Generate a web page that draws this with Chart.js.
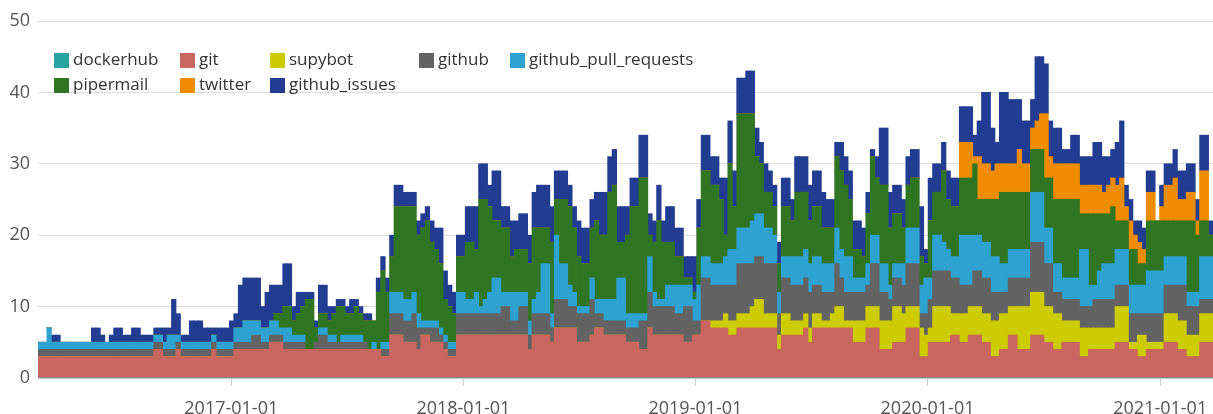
<!DOCTYPE html>
<html>
<head>
<meta charset="utf-8">
<script src="https://cdn.jsdelivr.net/npm/chart.js@4.4.1/dist/chart.umd.min.js"></script>
<style>
  html, body { margin: 0; padding: 0; background: #ffffff; }
  #wrap { width: 1213px; height: 414px; }
</style>
</head>
<body>
<div id="wrap"><canvas id="c" width="1213" height="414"></canvas></div>
<script>
// ---- categories: weekly bins starting at this date ----
const FIRST_WEEK = '2016-03-03';
const TICK_LABELS = ['2017-01-01', '2018-01-01', '2019-01-01', '2020-01-01', '2021-01-01'];
const SERIES_NAMES = ['dockerhub', 'git', 'supybot', 'github', 'github_pull_requests', 'pipermail', 'twitter', 'github_issues'];

// ---- series values (messages per week) ----
const git = [
  3,3,3,3,3,3,3,3,3,3,3,3,3,3,3,3,3,3,3,3,3,3,
  3,3,3,3,4,4,3,3,3,4,3,3,3,3,3,3,3,4,3,3,3,3,
  4,4,4,4,4,4,4,4,5,5,5,4,4,4,4,4,4,4,4,4,4,4,
  4,4,4,4,4,4,4,4,4,4,4,3,3,6,6,6,5,5,5,4,6,6,
  5,5,5,4,3,3,6,6,6,6,6,6,6,6,6,6,6,6,6,6,6,6,
  4,6,6,6,6,5,7,7,7,7,7,5,5,5,6,7,7,6,6,6,6,6,
  5,5,5,4,4,7,6,6,6,6,6,6,6,5,5,6,6,8,8,7,7,7,
  7,6,6,7,7,7,7,7,7,7,7,7,4,6,6,6,6,6,7,5,7,7,
  7,7,7,7,7,7,7,5,5,5,7,7,7,4,4,4,5,5,5,7,7,7,
  3,3,5,5,5,5,5,6,6,5,5,6,6,6,5,5,3,3,4,4,6,6,
  4,4,4,6,6,6,5,5,4,4,5,5,5,5,3,3,4,4,4,4,4,4,
  5,5,5,4,4,3,3,4,4,4,4,5,5,5,4,4,3,3,3,5,5,5
];
const supybot = [
  0,0,0,0,0,0,0,0,0,0,0,0,0,0,0,0,0,0,0,0,0,0,
  0,0,0,0,0,0,0,0,0,0,0,0,0,0,0,0,0,0,0,0,0,0,
  0,0,0,0,0,0,0,0,0,0,0,0,0,0,0,0,0,0,0,0,0,0,
  0,0,0,0,0,0,0,0,0,0,0,0,0,0,0,0,0,0,0,0,0,0,
  0,0,0,0,0,0,0,0,0,0,0,0,0,0,0,0,0,0,0,0,0,0,
  0,0,0,0,0,0,0,0,0,0,0,0,0,0,0,0,0,0,0,0,0,0,
  0,0,0,0,0,0,0,0,0,0,0,0,0,0,0,0,0,0,0,1,1,1,
  2,2,2,2,2,2,3,4,4,2,2,2,2,3,3,2,2,2,2,2,2,2,
  1,1,2,3,3,1,1,3,3,3,3,3,3,4,4,4,5,5,4,3,3,3,
  4,3,2,5,5,5,5,3,3,4,4,4,4,4,4,4,5,5,5,5,4,4,
  6,6,6,6,6,6,5,5,5,5,3,3,3,3,4,4,3,3,3,3,3,3,
  5,5,5,1,1,3,3,1,1,1,1,4,4,4,4,4,3,3,3,4,4,4
];
const github = [
  1,1,1,1,1,1,1,1,1,1,1,1,1,1,1,1,1,1,1,1,1,1,
  1,1,1,1,1,1,1,1,1,1,1,1,1,1,1,1,1,1,1,1,1,1,
  1,1,1,1,2,2,1,1,1,1,1,1,1,1,1,1,0,0,1,2,2,1,
  1,1,1,1,1,1,1,1,0,0,0,1,1,3,3,3,3,3,4,3,1,1,
  2,2,1,1,1,1,3,3,3,3,3,3,3,3,3,3,4,4,2,2,4,4,
  2,3,3,3,3,2,4,4,4,3,3,4,4,4,5,2,2,2,2,2,2,2,
  2,2,2,4,4,5,4,4,4,4,4,3,3,5,5,2,2,6,6,5,5,5,
  4,5,5,7,7,7,6,6,6,7,7,7,3,5,5,5,5,5,5,5,4,4,
  4,4,3,6,4,4,4,4,4,4,3,6,6,4,4,3,4,4,4,6,6,6,
  2,3,4,5,5,5,5,5,5,4,4,3,5,5,5,5,4,4,3,3,4,4,
  4,4,4,7,7,7,6,6,3,3,3,3,3,3,3,3,3,4,4,4,4,4,
  3,3,3,4,4,3,3,4,4,4,4,4,4,4,5,5,4,4,4,2,2,2
];
const github_pull_requests = [
  1,1,3,1,1,1,1,1,1,1,1,1,1,1,1,1,1,1,1,1,1,1,
  1,1,1,1,1,1,1,2,2,1,1,1,1,1,1,1,1,1,1,1,1,1,
  2,2,3,3,2,2,2,2,2,2,1,2,2,1,1,1,0,0,0,1,1,1,
  1,0,1,1,1,1,1,0,0,1,0,1,1,3,3,3,3,3,3,2,1,1,
  1,1,1,1,1,1,3,3,2,2,3,1,2,3,5,5,2,2,4,4,2,2,
  2,2,3,7,7,2,9,5,5,3,2,1,1,1,3,2,2,3,3,3,6,6,
  2,2,2,1,1,5,2,1,1,3,3,4,4,3,3,3,5,3,3,3,3,3,
  4,5,5,5,5,5,6,6,6,5,5,4,3,3,3,4,4,4,4,4,4,4,
  4,4,4,5,4,5,5,2,2,2,3,4,4,4,4,2,2,2,3,5,5,5,
  4,5,3,5,5,4,3,3,3,7,7,7,5,5,5,5,5,5,4,4,4,4,
  4,4,4,7,7,7,5,5,4,4,3,3,3,3,8,8,3,2,4,5,5,5,
  5,5,5,4,4,4,4,6,6,6,6,4,4,4,4,4,2,2,2,6,6,6
];
const pipermail = [
  0,0,0,0,0,0,0,0,0,0,0,0,0,0,0,0,0,0,0,0,0,0,
  0,0,0,0,0,0,0,0,0,0,0,0,0,0,0,0,0,0,0,0,0,0,
  0,0,0,0,0,0,0,0,0,1,2,3,3,2,3,4,7,7,2,2,2,2,
  3,5,4,3,3,4,3,3,4,3,8,10,7,5,12,12,13,13,12,11,13,14,
  11,10,9,5,5,4,5,5,8,8,6,15,14,12,8,8,9,9,5,6,6,6,
  8,10,9,5,5,10,5,9,9,11,9,7,6,6,7,11,9,9,15,16,5,5,
  11,15,15,19,19,3,7,11,8,6,6,4,4,1,1,1,8,12,12,11,11,9,
  3,12,6,16,16,16,15,8,7,5,5,4,4,7,7,5,9,9,8,6,7,7,
  5,5,5,10,11,10,8,4,4,3,7,11,8,11,11,8,7,7,5,6,7,7,
  4,2,8,6,6,10,7,7,7,8,8,8,10,5,6,6,8,8,10,10,8,8,
  8,8,8,6,6,6,7,7,9,9,11,11,11,11,5,5,10,10,8,7,7,8,
  4,4,4,5,5,3,3,7,7,7,7,5,5,5,5,5,10,10,8,5,5,3
];
const twitter = [
  0,0,0,0,0,0,0,0,0,0,0,0,0,0,0,0,0,0,0,0,0,0,
  0,0,0,0,0,0,0,0,0,0,0,0,0,0,0,0,0,0,0,0,0,0,
  0,0,0,0,0,0,0,0,0,0,0,0,0,0,0,0,0,0,0,0,0,0,
  0,0,0,0,0,0,0,0,0,0,0,0,0,0,0,0,0,0,0,0,0,0,
  0,0,0,0,0,0,0,0,0,0,0,0,0,0,0,0,0,0,0,0,0,0,
  0,0,0,0,0,0,0,0,0,0,0,0,0,0,0,0,0,0,0,0,0,0,
  0,0,0,0,0,0,0,0,0,0,0,0,0,0,0,0,0,0,0,0,0,0,
  0,0,0,0,0,0,0,0,0,0,0,0,0,0,0,0,0,0,0,0,0,0,
  0,0,0,0,0,0,0,0,0,0,0,0,0,0,0,0,0,0,0,0,0,0,
  0,0,0,0,0,0,0,0,0,5,5,5,1,6,5,5,4,5,4,4,4,4,
  6,4,4,3,4,5,9,3,5,5,5,5,5,5,4,4,4,4,4,3,4,4,
  5,6,2,4,2,3,2,4,4,0,2,5,5,6,3,3,4,4,2,7,7,0
];
const github_issues = [
  0,0,0,1,1,0,0,0,0,0,0,0,2,2,1,0,1,2,2,1,1,2,
  2,1,1,1,1,1,2,1,5,3,1,1,3,3,3,2,2,1,2,2,2,3,
  2,6,6,6,6,6,3,5,5,4,4,6,6,2,3,2,1,1,1,4,4,2,
  1,1,1,1,2,1,1,1,1,0,2,2,2,3,3,3,2,2,2,2,2,2,
  3,3,5,4,3,3,3,3,5,5,6,5,5,3,7,7,3,3,5,4,5,5,
  4,5,6,6,6,5,4,4,4,3,3,5,5,5,4,4,6,6,5,5,5,5,
  4,4,4,6,6,3,3,5,3,5,5,4,4,3,3,5,4,5,5,4,4,3,
  8,6,5,5,5,6,6,4,3,4,3,3,3,4,4,3,5,5,5,5,5,5,
  5,4,4,2,4,4,4,4,4,4,3,1,3,8,8,5,4,4,4,4,4,4,
  7,2,6,4,4,4,4,4,4,5,5,5,3,5,10,10,6,3,10,10,9,9,
  7,6,6,4,9,8,7,5,5,5,2,2,4,4,4,4,4,6,6,5,4,4,
  6,8,3,3,2,3,3,3,3,0,3,3,3,4,4,4,4,4,3,5,5,2
];
const dockerhub = [
  0,0,0,0,0,0,0,0,0,0,0,0,0,0,0,0,0,0,0,0,0,0,
  0,0,0,0,0,0,0,0,0,0,0,0,0,0,0,0,0,0,0,0,0,0,
  0,0,0,0,0,0,0,0,0,0,0,0,0,0,0,0,0,0,0,0,0,0,
  0,0,0,0,0,0,0,0,0,0,0,0,0,0,0,0,0,0,0,0,0,0,
  0,0,0,0,0,0,0,0,0,0,0,0,0,0,0,0,0,0,0,0,0,0,
  0,0,0,0,0,0,0,0,0,0,0,0,0,0,0,0,0,0,0,0,0,0,
  0,0,0,0,0,0,0,0,0,0,0,0,0,0,0,0,0,0,0,0,0,0,
  0,0,0,0,0,0,0,0,0,0,0,0,0,0,0,0,0,0,0,0,0,0,
  0,0,0,0,0,0,0,0,0,0,0,0,0,0,0,0,0,0,0,0,0,0,
  0,0,0,0,0,0,0,0,0,0,0,0,0,0,0,0,0,0,0,0,0,0,
  0,0,0,0,0,0,0,0,0,0,0,0,0,0,0,0,0,0,0,0,0,0,
  0,0,0,0,0,0,0,0,0,0,0,0,0,0,0,0,0,0,0,0,0,0
];

// ---- styles ----
const COLORS = {
  dockerhub: '#2aa3a3',
  git: '#c8665f',
  supybot: '#cccc00',
  github: '#636363',
  github_pull_requests: '#2ea2d0',
  pipermail: '#2f7522',
  twitter: '#f08c00',
  github_issues: '#213c91'
};
const VALUES = { dockerhub, git, supybot, github, github_pull_requests, pipermail, twitter, github_issues };
// stacking order, bottom to top
const STACK_ORDER = ['dockerhub', 'git', 'supybot', 'github', 'github_pull_requests', 'pipermail', 'twitter', 'github_issues'];

const DAY = 86400000;
const START = Date.parse(FIRST_WEEK + 'T00:00:00Z');
const N = git.length;
const WEEKS = git.map((_, i) => new Date(START + i * 7 * DAY).toISOString().slice(0, 10));
const dayOf = s => (Date.parse(s + 'T00:00:00Z') - START) / DAY;
const TICK_DAYS = TICK_LABELS.map(dayOf);

const datasets = STACK_ORDER.map(name => ({
  label: name,
  data: VALUES[name].map((v, i) => ({ x: dayOf(WEEKS[i]) + 3.5, y: v })),
  backgroundColor: COLORS[name],
  borderWidth: 0,
  barPercentage: 1.0,
  categoryPercentage: 1.0,
  inflateAmount: 0.4
}));

const FONT = '"Open Sans", "Noto Sans", sans-serif';

const legendPlugin = {
  id: 'gridLegend',
  afterDraw(chart) {
    const ctx = chart.ctx;
    const cols = [54, 180, 270, 419, 510];
    const rows = [60, 85];
    ctx.save();
    ctx.font = '17px ' + FONT;
    ctx.textBaseline = 'middle';
    ctx.textAlign = 'left';
    SERIES_NAMES.forEach((name, i) => {
      const c = i % 5, r = Math.floor(i / 5);
      const x = cols[c], y = rows[r];
      ctx.fillStyle = COLORS[name];
      ctx.fillRect(x, y - 7, 15, 15);
      ctx.fillStyle = '#333333';
      ctx.fillText(name, x + 19, y);
    });
    ctx.restore();
  }
};

new Chart(document.getElementById('c'), {
  type: 'bar',
  data: { datasets },
  plugins: [legendPlugin],
  options: {
    responsive: false,
    animation: false,
    layout: { padding: { top: 21, right: 0, left: 0, bottom: 0 } },
    plugins: { legend: { display: false }, tooltip: { enabled: false } },
    scales: {
      x: {
        type: 'linear',
        stacked: true,
        min: 0,
        max: N * 7,
        offset: false,
        afterBuildTicks: s => { s.ticks = TICK_DAYS.map(v => ({ value: v })); },
        afterFit: s => { s.height = 36; s.paddingLeft = 0; s.paddingRight = 0; },
        ticks: {
          autoSkip: false,
          maxRotation: 0,
          padding: 12,
          color: '#555555',
          font: { family: FONT, size: 18 },
          callback: (v) => { const k = TICK_DAYS.indexOf(v); return k >= 0 ? TICK_LABELS[k] : ''; }
        },
        grid: { offset: false, drawOnChartArea: false, drawTicks: true, tickLength: 8, color: '#cccccc' },
        border: { display: true, color: '#cccccc' }
      },
      y: {
        stacked: true,
        min: 0,
        max: 50,
        afterFit: s => { s.width = 38; },
        ticks: { stepSize: 10, padding: 8, color: '#555555', font: { family: FONT, size: 18 } },
        grid: { color: '#dddddd', drawTicks: false },
        border: { display: false }
      }
    }
  }
});
</script>
</body>
</html>
